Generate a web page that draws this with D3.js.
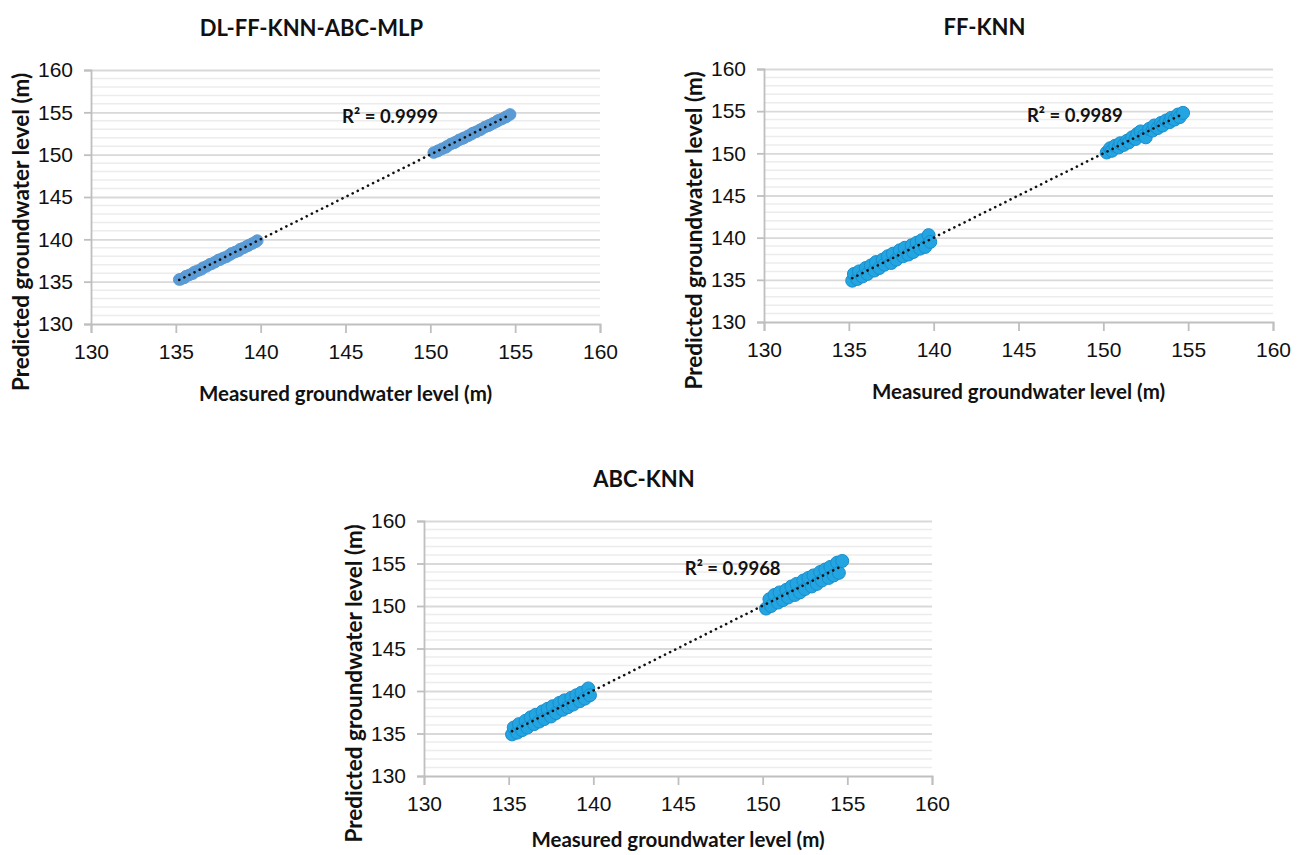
<!DOCTYPE html>
<html>
<head>
<meta charset="utf-8">
<script src="https://cdn.jsdelivr.net/npm/d3@7"></script>
<style>
  body { margin: 0; background: #fff; }
  svg { display: block; font-family: Lato, "Open Sans", sans-serif; }
  .tick-label { font-size: 21px; fill: #111; }
  .panel-title { font-size: 22px; font-weight: bold; fill: #111; }
  .axis-title { font-size: 20.5px; font-weight: bold; fill: #111; }
  .axis-title.y { font-size: 22.5px; }
  .r2 { font-size: 18.5px; font-weight: bold; fill: #111; }
</style>
</head>
<body>
<svg id="chart" width="1305" height="855"></svg>
<script>
// Measured groundwater level (m), shared by the three models
var measured = [
	135.2, 135.3, 135.5, 135.6, 135.8, 136.0, 136.1, 136.3, 136.5, 136.6,
	136.8, 137.0, 137.1, 137.3, 137.5, 137.6, 137.8, 138.0, 138.2, 138.3,
	138.5, 138.7, 138.8, 139.0, 139.2, 139.3, 139.5, 139.7, 139.8,
	150.2, 150.4, 150.5, 150.7, 150.9, 151.0, 151.2, 151.4, 151.5, 151.7,
	151.9, 152.0, 152.2, 152.4, 152.5, 152.7, 152.9, 153.0, 153.2, 153.4,
	153.5, 153.7, 153.9, 154.0, 154.2, 154.4, 154.5, 154.7
];

// Predicted groundwater level (m) for each model
var predDL = [
	135.25, 135.3, 135.45, 135.65, 135.8, 135.95, 136.15, 136.3, 136.45, 136.65,
	136.8, 137.05, 137.1, 137.3, 137.55, 137.6, 137.8, 137.95, 138.2, 138.35,
	138.5, 138.65, 138.85, 139.0, 139.2, 139.3, 139.5, 139.7, 139.85,
	150.25, 150.4, 150.5, 150.7, 150.85, 151.0, 151.25, 151.4, 151.5, 151.75,
	151.9, 152.0, 152.2, 152.4, 152.55, 152.7, 152.9, 153.0, 153.25, 153.4,
	153.5, 153.7, 153.9, 154.05, 154.2, 154.4, 154.5, 154.75
];

var predFF = [
	134.9, 135.7, 135.1, 136.0, 135.4, 136.4, 135.7, 136.7, 136.1, 137.1,
	136.4, 137.4, 136.8, 137.8, 137.0, 138.1, 137.4, 138.5, 137.8, 138.8,
	138.0, 139.1, 138.3, 139.4, 138.7, 139.7, 138.9, 140.3, 139.5,
	150.1, 150.6, 150.3, 150.9, 150.7, 151.2, 151.0, 151.5, 151.3, 151.9,
	151.7, 152.3, 152.6, 152.1, 151.9, 152.9, 152.7, 153.3, 153.0, 153.6,
	153.3, 153.9, 153.7, 154.2, 154.0, 154.6, 154.3, 154.8
];

var predABC = [
	134.9, 135.7, 135.1, 136.1, 135.4, 136.5, 135.7, 136.9, 136.1, 137.2,
	136.4, 137.6, 136.7, 137.9, 137.0, 138.2, 137.4, 138.6, 137.8, 138.9,
	138.1, 139.2, 138.4, 139.5, 138.8, 139.8, 139.1, 140.3, 139.5,
	149.7, 150.8, 150.0, 151.3, 150.4, 151.6, 150.7, 151.9, 151.0, 152.3,
	151.3, 152.6, 151.6, 153.0, 152.0, 153.3, 152.3, 153.6, 152.6, 154.0,
	153.0, 154.3, 153.3, 154.6, 153.6, 155.1, 153.9, 155.3
];

var modelNames = ['DL-FF-KNN-ABC-MLP', 'FF-KNN', 'ABC-KNN'];
var r2Labels = ['R² = 0.9999', 'R² = 0.9989', 'R² = 0.9968'];
var axisTicks = [130, 135, 140, 145, 150, 155, 160];
var domain = [130, 160];

var svg = d3.select('#chart');

svg.append('rect')
	.attr('width', 1305)
	.attr('height', 855)
	.attr('fill', '#fff');

// Plot boxes of the three panels
var panels = [
	{ left: 91, top: 70, width: 509, height: 254, pred: predDL, fill: '#5b9bd5', stroke: '#5b9bd5', r: 5.8, r2x: 144.8, r2y: 154.45, xt: 70 },
	{ left: 764, top: 69, width: 509, height: 253, pred: predFF, fill: '#23a5e2', stroke: '#1a8dcc', r: 6.5, r2x: 145.5, r2y: 154.45, xt: 70 },
	{ left: 424, top: 521, width: 508, height: 255, pred: predABC, fill: '#23a5e2', stroke: '#1a8dcc', r: 6.5, r2x: 145.4, r2y: 154.45, xt: 64 }
];

panels.forEach(function(p, i) {
	drawPanel(p, modelNames[i], r2Labels[i]);
});

function drawPanel(p, name, r2) {

	var g = svg.append('g')
		.attr('transform', 'translate(' + p.left + ',' + p.top + ')');

	var x = d3.scaleLinear().domain(domain).range([0, p.width]);
	var y = d3.scaleLinear().domain(domain).range([p.height, 0]);

	// Minor gridlines every 1 m
	g.append('g')
		.selectAll('line')
		.data(d3.range(domain[0] + 1, domain[1], 1).filter(function(v) { return v % 5 != 0; }))
		.enter()
		.append('line')
		.attr('x1', 0)
		.attr('x2', p.width)
		.attr('y1', function(d) { return y(d); })
		.attr('y2', function(d) { return y(d); })
		.attr('stroke', '#ececec')
		.attr('stroke-width', 1.5);

	// Major gridlines
	g.append('g')
		.call(d3.axisLeft(y).tickValues(axisTicks.slice(1)).tickSize(-p.width).tickFormat(''))
		.call(function(a) {
			a.select('.domain').remove();
			a.selectAll('line').attr('stroke', '#d9d9d9').attr('stroke-width', 1.8);
		});

	// Y axis
	var yAxis = g.append('g')
		.call(d3.axisLeft(y).tickValues(axisTicks).tickSize(7).tickPadding(11).tickFormat(d3.format('d')));
	yAxis.select('.domain').attr('stroke', '#bfbfbf').attr('stroke-width', 1.8);
	yAxis.selectAll('line').attr('stroke', '#bfbfbf').attr('stroke-width', 1.8);
	yAxis.selectAll('text').attr('class', 'tick-label').attr('font-family', null).attr('font-size', null);

	// X axis
	var xAxis = g.append('g')
		.attr('transform', 'translate(0,' + p.height + ')')
		.call(d3.axisBottom(x).tickValues(axisTicks).tickSize(9).tickPadding(11).tickFormat(d3.format('d')));
	xAxis.select('.domain').attr('stroke', '#bfbfbf').attr('stroke-width', 1.8);
	xAxis.selectAll('line').attr('stroke', '#bfbfbf').attr('stroke-width', 1.8);
	xAxis.selectAll('text').attr('class', 'tick-label').attr('font-family', null).attr('font-size', null);

	// Points
	var pts = measured.map(function(m, k) { return { m: m, p: p.pred[k] }; });

	g.append('g')
		.selectAll('circle')
		.data(pts)
		.enter()
		.append('circle')
		.attr('cx', function(d) { return x(d.m); })
		.attr('cy', function(d) { return y(d.p); })
		.attr('r', p.r)
		.attr('fill', p.fill)
		.attr('stroke', p.stroke)
		.attr('stroke-width', 1);

	// Linear trendline (least squares)
	var mx = d3.mean(pts, function(d) { return d.m; });
	var my = d3.mean(pts, function(d) { return d.p; });
	var sxy = d3.sum(pts, function(d) { return (d.m - mx) * (d.p - my); });
	var sxx = d3.sum(pts, function(d) { return (d.m - mx) * (d.m - mx); });
	var slope = sxy / sxx;
	var icpt = my - slope * mx;
	var ext = d3.extent(measured);

	g.append('line')
		.attr('x1', x(ext[0]))
		.attr('y1', y(icpt + slope * ext[0]))
		.attr('x2', x(ext[1]))
		.attr('y2', y(icpt + slope * ext[1]))
		.attr('stroke', '#111')
		.attr('stroke-width', 2.6)
		.attr('stroke-linecap', 'round')
		.attr('stroke-dasharray', '0.1,5.6');

	// R² label
	g.append('text')
		.attr('class', 'r2')
		.attr('x', x(p.r2x))
		.attr('y', y(p.r2y))
		.attr('dy', '0.35em')
		.text(r2);

	// Titles
	g.append('text')
		.attr('class', 'panel-title')
		.attr('x', p.width / 2 - 34)
		.attr('y', -34)
		.attr('text-anchor', 'middle')
		.text(name);

	g.append('text')
		.attr('class', 'axis-title')
		.attr('x', p.width / 2)
		.attr('y', p.height + p.xt)
		.attr('dy', '0.35em')
		.attr('text-anchor', 'middle')
		.text('Measured groundwater level (m)');

	g.append('text')
		.attr('class', 'axis-title y')
		.attr('transform', 'translate(-70,' + (p.height / 2 + 35) + ')rotate(-90)')
		.attr('dy', '0.35em')
		.attr('text-anchor', 'middle')
		.text('Predicted groundwater level (m)');
}
</script>
</body>
</html>
